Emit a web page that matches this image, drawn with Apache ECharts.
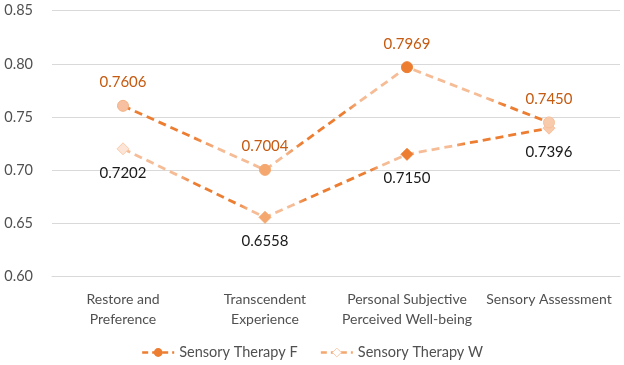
<!DOCTYPE html>
<html>
<head>
<meta charset="utf-8">
<script src="https://cdn.jsdelivr.net/npm/echarts@6/dist/echarts.min.js"></script>
<style>html,body{margin:0;padding:0;background:#fff;}#c{width:624px;height:365px;}</style>
</head>
<body>
<div id="c"></div>
<script>
var categories = ['Restore and\nPreference', 'Transcendent\nExperience', 'Personal Subjective\nPerceived Well-being', 'Sensory Assessment'];
var seriesNames = ['Sensory Therapy F', 'Sensory Therapy W'];
var valuesF = [0.7606, 0.7004, 0.7969, 0.7450];
var valuesW = [0.7202, 0.6558, 0.7150, 0.7396];
var yTicks = [0.60, 0.65, 0.70, 0.75, 0.80, 0.85];

var DARK = '#ed7d31', LIGHT = '#f6bc96';
var markerF = [{c:'#f7c0a0', b:'#f4b183'}, {c:'#f4a870', b:'#f4a870'}, {c:DARK, b:DARK}, {c:'#f8cbad', b:'#f6bf9c'}];
var markerW = [{c:'#fce4d6', b:'#f8cbad'}, {c:'#f4a870', b:'#f4a870'}, {c:DARK, b:DARK}, {c:'#f8cbad', b:'#f6bf9c'}];

function items(vals, marks){
  return vals.map(function(v,i){return {value:v, itemStyle:{color:marks[i].c, borderColor:marks[i].b, borderWidth:1}};});
}
function grad(stops){
  return new echarts.graphic.LinearGradient(0,0,1,0, stops.map(function(s){return {offset:s[0], color:s[1]};}));
}
var gradF = grad([[0,DARK],[0.17,DARK],[0.23,LIGHT],[0.38,LIGHT],[0.42,DARK],[0.52,DARK],[0.56,LIGHT],[0.85,LIGHT],[0.89,DARK],[1,DARK]]);
var gradW = grad([[0,LIGHT],[0.13,LIGHT],[0.17,DARK],[0.27,DARK],[0.30,LIGHT],[0.40,LIGHT],[0.43,DARK],[0.58,DARK],[0.61,LIGHT],[0.77,LIGHT],[0.80,DARK],[1,DARK]]);

var FONT = 'Lato';
var TXT = '#505050';
var chart = echarts.init(document.getElementById('c'));
chart.setOption({
  animation:false,
  textStyle:{fontFamily:FONT},
  grid:{left:52, right:4, top:10.7, bottom:88.3, containLabel:false},
  xAxis:{type:'category', data:categories, boundaryGap:true,
    axisLine:{show:true, lineStyle:{color:'#d9d9d9', width:1}},
    axisTick:{show:false},
    axisLabel:{color:TXT, fontSize:14, lineHeight:20, margin:13, interval:0, fontFamily:FONT}},
  yAxis:{type:'value', min:yTicks[0], max:yTicks[yTicks.length-1], interval:0.05,
    axisLine:{show:false}, axisTick:{show:false},
    splitLine:{lineStyle:{color:'#d9d9d9', width:1}},
    axisLabel:{color:TXT, fontSize:14.5, margin:19, fontFamily:FONT, formatter:function(v){return v.toFixed(2);}}},
  legend:{bottom:0, left:'center', itemWidth:32, itemHeight:11, itemGap:22,
    textStyle:{color:TXT, fontSize:14.5, fontFamily:FONT},
    data:[
      {name:seriesNames[0], itemStyle:{color:DARK, borderColor:DARK}, lineStyle:{color:DARK, width:2.5, type:[6,4]}},
      {name:seriesNames[1], itemStyle:{color:'#fff', borderColor:'#f8cbad', borderWidth:1}, lineStyle:{color:'#f4a870', width:2.5, type:[6,4]}}
    ]},
  series:[
    {name:seriesNames[0], type:'line', data:items(valuesF, markerF), symbol:'circle', symbolSize:11,
      itemStyle:{color:DARK},
      lineStyle:{color:gradF, width:2.8, type:[8,5]},
      label:{show:true, position:'top', distance:10, color:'#c55a11', fontSize:15, fontFamily:FONT, formatter:function(p){return p.value.toFixed(4);}},
      z:3},
    {name:seriesNames[1], type:'line', data:items(valuesW, markerW), symbol:'diamond', symbolSize:12,
      itemStyle:{color:'#fff'},
      lineStyle:{color:gradW, width:2.8, type:[8,5]},
      label:{show:true, position:'bottom', distance:10, color:'#1a1a1a', fontSize:15, fontFamily:FONT, formatter:function(p){return p.value.toFixed(4);}},
      z:2}
  ]
});
</script>
</body>
</html>
